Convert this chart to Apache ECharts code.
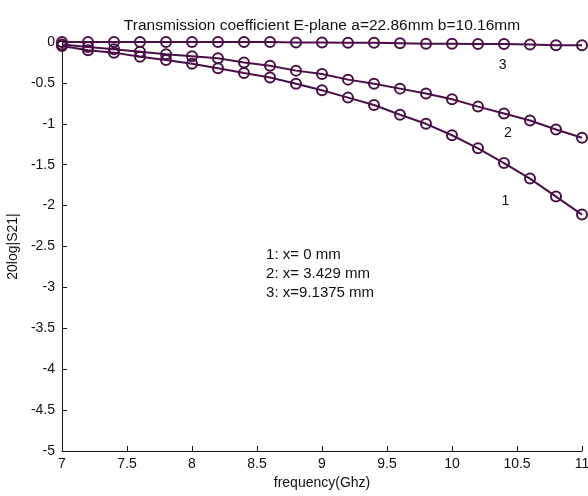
<!DOCTYPE html>
<html>
<head>
<meta charset="utf-8">
<script src="https://cdn.jsdelivr.net/npm/echarts@6/dist/echarts.min.js"></script>
<style>
  html, body { margin: 0; padding: 0; background: #fff; }
  #chart { width: 588px; height: 496px; }
</style>
</head>
<body>
<div id="chart"></div>
<script>
// Frequency sweep (GHz)
const freq = [7.0, 7.2, 7.4, 7.6, 7.8, 8.0, 8.2, 8.4, 8.6, 8.8, 9.0,
              9.2, 9.4, 9.6, 9.8, 10.0, 10.2, 10.4, 10.6, 10.8, 11.0];

// 20log|S21| in dB for each post offset x
const s21_x0 = [-0.05, -0.10, -0.13, -0.18, -0.22, -0.265, -0.32, -0.38, -0.435, -0.51, -0.59,
                -0.68, -0.77, -0.89, -1.00, -1.14, -1.30, -1.48, -1.67, -1.89, -2.11];
const s21_x3429 = [-0.03, -0.06, -0.09, -0.12, -0.15, -0.175, -0.20, -0.25, -0.29, -0.35, -0.39,
                   -0.46, -0.51, -0.57, -0.63, -0.70, -0.79, -0.875, -0.96, -1.07, -1.17];
const s21_x91375 = [0, 0, 0, 0, 0, 0, 0, 0, 0, -0.005, -0.005,
                    -0.01, -0.01, -0.015, -0.02, -0.02, -0.025, -0.025, -0.03, -0.04, -0.04];

const curveLabels = ['1', '2', '3'];
const curveLabelAt = [[10.41, -1.94], [10.43, -1.12], [10.39, -0.28]];
const legendLines = ['1: x= 0 mm', '2: x= 3.429 mm', '3: x=9.1375 mm'];
const legendAt = [8.57, -2.6];

const titleText = 'Transmission coefficient E-plane a=22.86mm b=10.16mm';
const xName = 'frequency(Ghz)';
const yName = '20log|S21|';

const ink = '#4a0f47';
const font = '"Liberation Sans", Arial, sans-serif';

function pairs(ys) { return freq.map((f, i) => [f, ys[i]]); }

function curve(name, ys) {
  return {
    name, type: 'line', data: pairs(ys),
    symbol: 'circle', symbolSize: 10,
    lineStyle: { color: ink, width: 2 },
    itemStyle: { color: 'rgba(255,255,255,0)', borderColor: ink, borderWidth: 2 },
    emphasis: { disabled: true },
    animation: false, z: 3
  };
}

const chart = echarts.init(document.getElementById('chart'));
chart.setOption({
  backgroundColor: '#fff',
  animation: false,
  textStyle: { fontFamily: font },
  title: {
    text: titleText, left: 317, top: 13, textAlign: 'center',
    textStyle: { fontFamily: font, fontSize: 15.5, fontWeight: 'normal', color: '#111' }
  },
  grid: { left: 62, right: 6, top: 42, bottom: 45, containLabel: false, outerBoundsMode: 'none' },
  xAxis: {
    type: 'value', min: 7, max: 11, interval: 0.5,
    name: xName, nameLocation: 'middle', nameGap: 24,
    nameTextStyle: { fontFamily: font, fontSize: 14, color: '#111' },
    axisLine: { show: true, onZero: false, lineStyle: { color: '#111', width: 1 } },
    axisTick: { show: true, inside: true, length: 5, lineStyle: { color: '#111' } },
    axisLabel: { fontFamily: font, fontSize: 14, color: '#111', margin: 6, showMaxLabel: true },
    splitLine: { show: false }
  },
  yAxis: {
    type: 'value', min: -5, max: 0, interval: 0.5,
    name: yName, nameLocation: 'middle', nameGap: 34, nameRotate: 90,
    nameTextStyle: { fontFamily: font, fontSize: 14, color: '#111' },
    axisLine: { show: true, onZero: false, lineStyle: { color: '#111', width: 1 } },
    axisTick: { show: true, inside: true, length: 5, lineStyle: { color: '#111' } },
    axisLabel: { fontFamily: font, fontSize: 14, color: '#111', margin: 7 },
    splitLine: { show: false }
  },
  series: [
    curve('x=0', s21_x0),
    curve('x=3.429', s21_x3429),
    curve('x=9.1375', s21_x91375)
  ]
});

// Curve tags and the offset key, placed in data coordinates
const graphics = [];
curveLabels.forEach((t, i) => {
  const p = chart.convertToPixel({ gridIndex: 0 }, curveLabelAt[i]);
  graphics.push({
    type: 'text', x: p[0], y: p[1],
    style: { text: t, font: '14px ' + font, fill: '#111', textAlign: 'center', textVerticalAlign: 'middle' }
  });
});
const k = chart.convertToPixel({ gridIndex: 0 }, legendAt);
legendLines.forEach((t, i) => {
  graphics.push({
    type: 'text', x: k[0], y: k[1] + i * 19,
    style: { text: t, font: '15px ' + font, fill: '#111', textAlign: 'left', textVerticalAlign: 'middle' }
  });
});
chart.setOption({ graphic: graphics });
</script>
</body>
</html>
